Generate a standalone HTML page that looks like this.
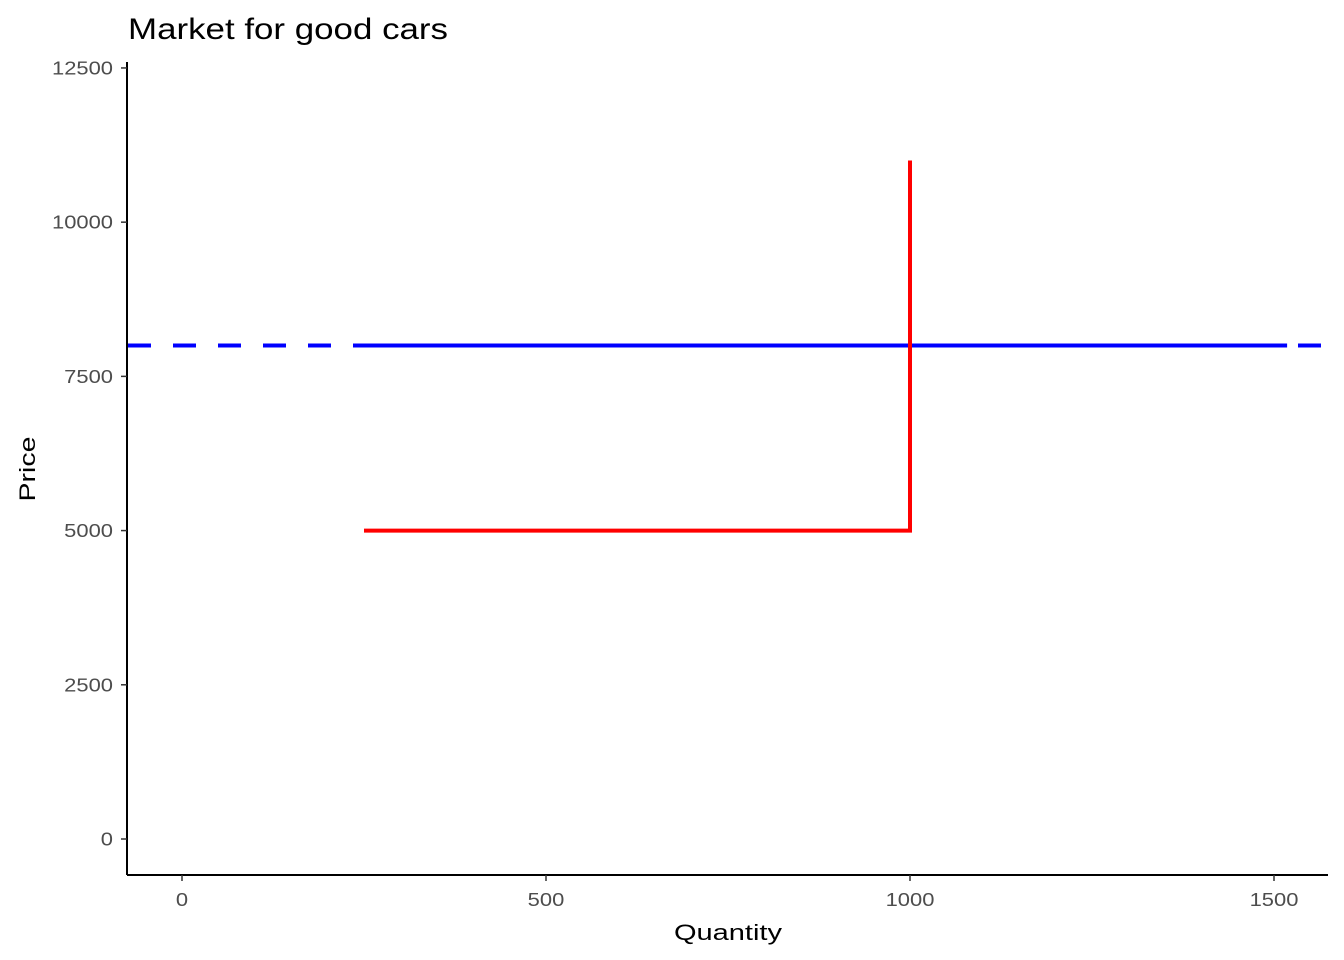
<!DOCTYPE html>
<html><head><meta charset="utf-8"><style>
body{margin:0;background:#fff;}
svg{display:block;font-family:"Liberation Sans",Arial,sans-serif;}
</style></head><body>
<svg id="chart" width="1344" height="960" xmlns="http://www.w3.org/2000/svg">
<text x="128" y="39" font-size="30" textLength="320" lengthAdjust="spacingAndGlyphs" fill="#000">Market for good cars</text>
<g id="plot"></g>
<line x1="127" y1="62" x2="127" y2="875" stroke="#000" stroke-width="2"/>
<line x1="127" y1="875" x2="1328" y2="875" stroke="#000" stroke-width="2"/>
<g id="xt"></g>
<g id="yt"></g>
<text x="728" y="940" font-size="22" text-anchor="middle" textLength="108" lengthAdjust="spacingAndGlyphs">Quantity</text>
<text transform="translate(35,469) rotate(-90)" font-size="22" text-anchor="middle" textLength="65" lengthAdjust="spacingAndGlyphs">Price</text>
</svg>
<script>
const xTicks=[0,500,1000,1500];
const yTicks=[0,2500,5000,7500,10000,12500];
const demandPrice=[8000];
const demandQty=[237.5,1518];
const supplyQty=[250,1000,1000];
const supplyPrice=[5000,5000,11000];
const X=q=>182+q*0.728;
const Y=p=>839-p*0.061684;
const NS='http://www.w3.org/2000/svg';
function mk(t,a,parent){const e=document.createElementNS(NS,t);for(const k in a)e.setAttribute(k,a[k]);parent.appendChild(e);return e;}
const plot=document.getElementById('plot'),xt=document.getElementById('xt'),yt=document.getElementById('yt');
xTicks.forEach(v=>{
 const l=mk('line',{x1:X(v),x2:X(v),y1:875,y2:881,stroke:'#333','stroke-width':1.5},xt);
 
 
 const s=String(v);
 const t=mk('text',{x:X(v),y:906,'font-size':18,fill:'#4d4d4d','text-anchor':'middle',textLength:s.length*12.2,lengthAdjust:'spacingAndGlyphs'},xt);t.textContent=s;
 
 
});
yTicks.forEach(v=>{
 const l=mk('line',{x1:121,x2:127,y1:Y(v),y2:Y(v),stroke:'#333','stroke-width':1.5},yt);
 
 
 const s=String(v);
 const t=mk('text',{x:113,y:Y(v)+6.5,'font-size':18,fill:'#4d4d4d','text-anchor':'end',textLength:s.length*12.2,lengthAdjust:'spacingAndGlyphs'},yt);t.textContent=s;
 
 
});
const hl=mk('line',{x1:128,x2:1328,y1:Y(demandPrice[0]),y2:Y(demandPrice[0]),stroke:'#0000ff','stroke-width':4,'stroke-dasharray':'23 22'},plot);


const dl=mk('line',{x1:X(demandQty[0]),x2:X(demandQty[1]),y1:Y(demandPrice[0]),y2:Y(demandPrice[0]),stroke:'#0000ff','stroke-width':4},plot);


const pts=supplyQty.map((q,i)=>X(q)+','+Y(supplyPrice[i])).join(' ');
const sl=mk('polyline',{points:pts,fill:'none',stroke:'#ff0000','stroke-width':4},plot);


</script>
</body></html>
